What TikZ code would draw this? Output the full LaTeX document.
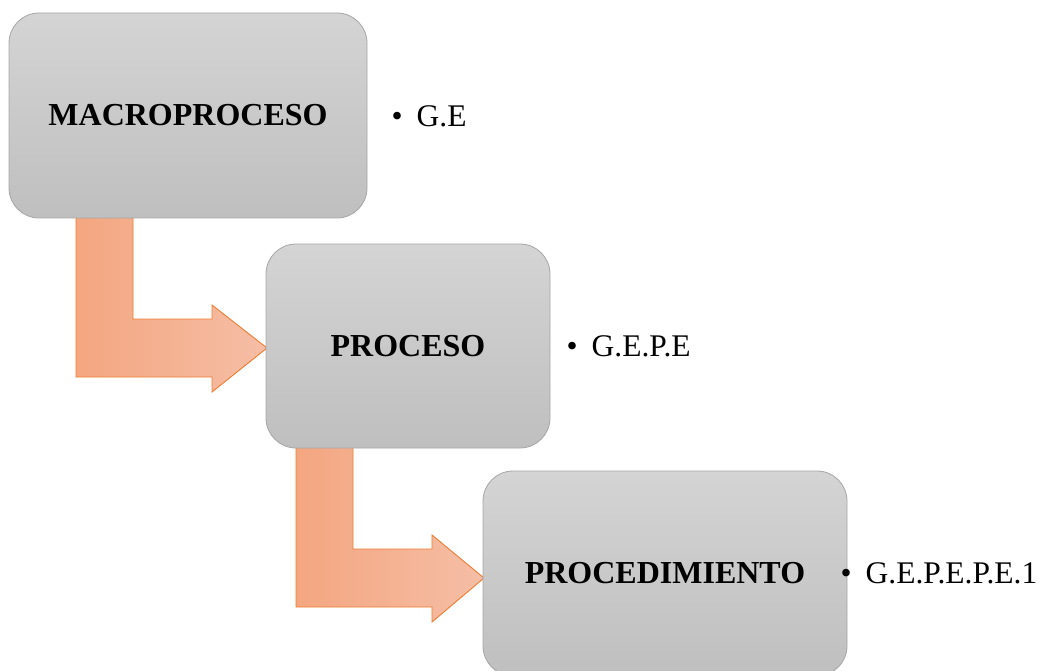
\documentclass[tikz,border=0pt]{standalone}
\usepackage{fontspec}
\setmainfont{Liberation Serif}
\begin{document}
\begin{tikzpicture}[x=1pt,y=-1pt,
  level/.style={draw=boxline, line width=0.8pt, rounded corners=30pt,
    top color=boxtop, bottom color=boxbot, inner sep=0pt,
    font=\fontsize{32}{36}\selectfont\bfseries},
  code/.style={anchor=west, inner sep=0pt, font=\fontsize{31.5}{36}\selectfont},
  bent/.style={draw=arrowline, line width=0.9pt, line join=miter,
    left color=arrowleft, right color=arrowright}]
\definecolor{boxtop}{RGB}{212,212,212}
\definecolor{boxbot}{RGB}{191,191,191}
\definecolor{boxline}{RGB}{166,166,166}
\definecolor{arrowline}{RGB}{237,125,49}
\definecolor{arrowleft}{RGB}{244,166,128}
\definecolor{arrowright}{RGB}{245,190,166}
\useasboundingbox (0,0) rectangle (1041,671);

% bent arrows linking the levels (drawn first, so the boxes cover their tails)
\shade[bent] (76,216) -- (133,216) -- (133,319) -- (212,319) -- (212,305)
  -- (267,348) -- (212,392) -- (212,377) -- (76,377) -- cycle;
\shade[bent] (296,446) -- (353,446) -- (353,549) -- (432,549) -- (432,535)
  -- (484,578) -- (432,622) -- (432,607) -- (296,607) -- cycle;

% the three levels
\node[level, minimum width=358, minimum height=205] (macro) at (188,115.5) {MACROPROCESO};
\node[level, minimum width=284, minimum height=204] (proc) at (408,346) {PROCESO};
\node[level, minimum width=364, minimum height=205] (pdto) at (665,573.5) {PROCEDIMIENTO};

% codes
\node[code] (c1) at (391.5,116.5) {\textbullet\hspace{14pt}G.E};
\node[code] (c2) at (566.5,346) {\textbullet\hspace{14pt}G.E.P.E};
\node[code] (c3) at (840.5,573) {\textbullet\hspace{14pt}G.E.P.E.P.E.1};
\end{tikzpicture}
\end{document}
